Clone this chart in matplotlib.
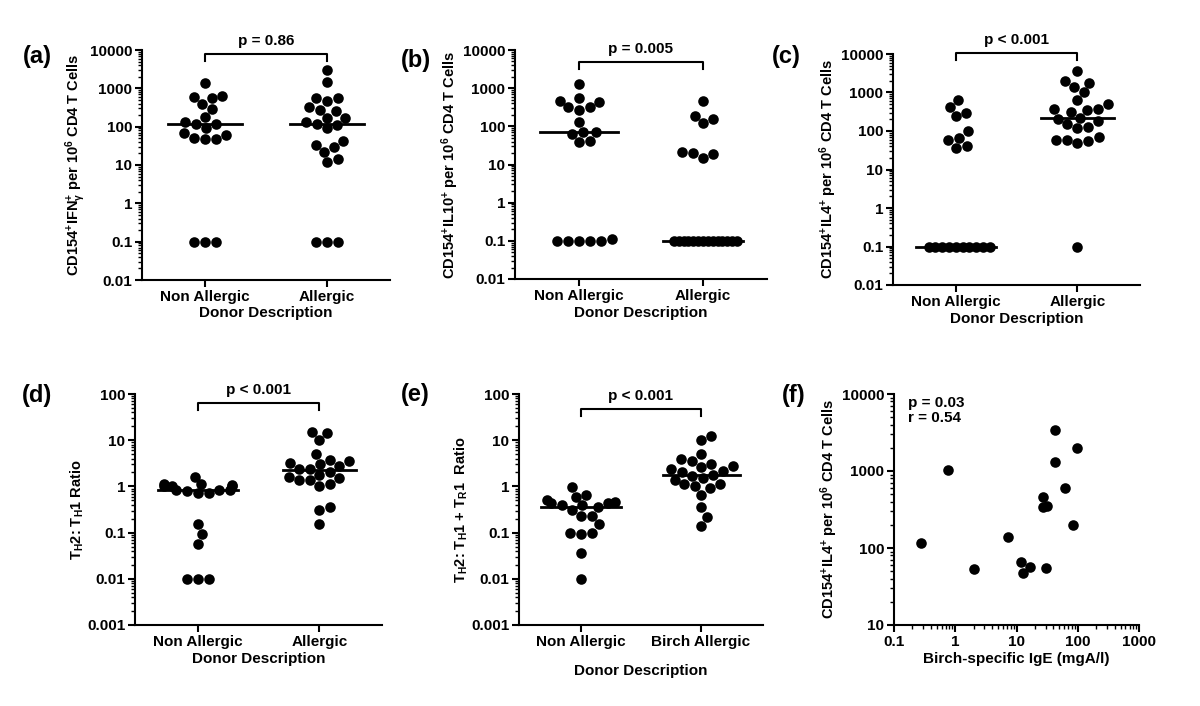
import numpy as np
import matplotlib
matplotlib.use("Agg")
import matplotlib.pyplot as plt

plt.rcParams["font.family"] = "Liberation Sans"
plt.rcParams["font.weight"] = "bold"
plt.rcParams["axes.labelweight"] = "bold"
plt.rcParams["mathtext.fontset"] = "custom"
plt.rcParams["mathtext.rm"] = "Liberation Sans:bold"
plt.rcParams["mathtext.it"] = "Liberation Sans:bold"
plt.rcParams["mathtext.bf"] = "Liberation Sans:bold"
plt.rcParams["mathtext.sf"] = "Liberation Sans:bold"

# ---- data ----
groups = ["Non Allergic", "Allergic"]
groups_e = ["Non Allergic", "Birch Allergic"]

a_non = [1400, 650, 600, 550, 400, 290, 175, 130, 115, 115, 90, 67, 62, 52, 48, 48, 0.1, 0.1, 0.1]
a_all = [3000, 1500, 570, 570, 480, 320, 270, 250, 170, 170, 130, 115, 110, 90, 42, 33, 30, 22,
         14, 12, 0.1, 0.1, 0.1]

b_non = [1300, 540, 470, 440, 325, 315, 270, 127, 72, 71, 63, 42, 38,
         0.1, 0.1, 0.1, 0.1, 0.1, 0.11]
b_all = [460, 185, 160, 120, 21, 19.5, 19, 15,
         0.1, 0.1, 0.1, 0.1, 0.1, 0.1, 0.1, 0.1, 0.1, 0.1, 0.1, 0.1, 0.1, 0.1]

c_non = [630, 425, 285, 250, 100, 67, 57, 40, 37,
         0.1, 0.1, 0.1, 0.1, 0.1, 0.1, 0.1, 0.1, 0.1, 0.1]
c_all = [3650, 2000, 1800, 1350, 1050, 630, 500, 380, 375, 360, 315, 220, 210, 180, 150, 130,
         120, 68, 58, 58, 56, 50, 0.1]

d_non = [1.6, 1.14, 1.14, 1.09, 1.03, 1.0, 1.0, 0.85, 0.82, 0.82, 0.78, 0.72, 0.72,
         0.15, 0.093, 0.058, 0.01, 0.01, 0.01]
d_all = [15, 14.5, 10, 5.1, 3.8, 3.5, 3.2, 3.1, 2.8, 2.4, 2.4, 2.1, 1.8, 1.6, 1.5, 1.35, 1.35,
         1.1, 1.0, 0.36, 0.31, 0.15]

e_non = [0.98, 0.66, 0.6, 0.5, 0.47, 0.43, 0.43, 0.39, 0.39, 0.36, 0.31, 0.23, 0.23, 0.15,
         0.1, 0.1, 0.095, 0.036, 0.01]
e_all = [12.5, 10, 5.1, 4.0, 3.5, 3.1, 2.7, 2.6, 2.4, 2.2, 2.1, 1.8, 1.7, 1.5, 1.4, 1.1, 1.1,
         1.03, 0.92, 0.66, 0.35, 0.22, 0.14]

f_ige = [0.28, 0.75, 2.0, 7.4, 11.7, 12.8, 16.8, 26.7, 26.7, 31, 30, 43, 42, 63, 98, 85]
f_il4 = [115, 1030, 54, 140, 65, 47, 56, 465, 345, 350, 55, 3450, 1320, 600, 1980, 200]

ticks_top = [0.01, 0.1, 1, 10, 100, 1000, 10000]
labels_top = ["0.01", "0.1", "1", "10", "100", "1000", "10000"]
ticks_ratio = [0.001, 0.01, 0.1, 1, 10, 100]
labels_ratio = ["0.001", "0.01", "0.1", "1", "10", "100"]
ticks_fy = [10, 100, 1000, 10000]
labels_fy = ["10", "100", "1000", "10000"]
ticks_fx = [0.1, 1, 10, 100, 1000]
labels_fx = ["0.1", "1", "10", "100", "1000"]

FS = 11
LFS = 10.5
W, H = 1200, 706


def px_axes(x0, y0, x1, y1):
    # pixel box (top-left origin) -> figure fraction rect
    return [x0 / W, (H - y1) / H, (x1 - x0) / W, (y1 - y0) / H]


def style_axes(ax):
    for s in ["top", "right"]:
        ax.spines[s].set_visible(False)
    for s in ["left", "bottom"]:
        ax.spines[s].set_linewidth(1.5)
    ax.tick_params(which="major", length=5, width=1.5, labelsize=FS, pad=2)
    ax.tick_params(which="minor", length=3, width=1.0)


def swarm(ax, xc, values, sx=11.0, sy=10.5, max_half_px=34.0):
    # beeswarm in pixel space with an elliptical footprint per dot
    vals = np.asarray(values, dtype=float)
    ys = ax.transData.transform(np.column_stack([np.full(len(vals), xc), vals]))[:, 1] / sy
    order = np.argsort(ys, kind="stable")
    placed = []
    off = np.zeros(len(vals))
    for i in order:
        y = ys[i]
        cands = [0.0]
        for qx, qy in placed:
            dy = abs(qy - y)
            if dy < 1:
                dx = np.sqrt(1 - dy ** 2)
                cands += [qx - dx, qx + dx]
        cands.sort(key=lambda c: (round(abs(c), 6), -c))
        for c in cands:
            if all((c - qx) ** 2 + (y - qy) ** 2 >= 1 - 1e-9 for qx, qy in placed):
                break
        placed.append((c, y))
        off[i] = c * sx
    # squeeze long rows of identical values
    for v in np.unique(vals):
        idx = np.where(vals == v)[0]
        m = np.abs(off[idx]).max()
        if m > max_half_px:
            off[idx] *= max_half_px / m
    unit = ax.transData.transform((1, 1))[0] - ax.transData.transform((0, 1))[0]
    return xc + off / unit


def dot_panel(rect, data, cats, yticks, ylabels, ylabel, bracket_y, ptext, xlabelpad=2):
    ax = fig.add_axes(rect)
    ax.set_yscale("log")
    ax.set_ylim(yticks[0], yticks[-1])
    ax.set_xlim(-0.516, 1.516)
    ax.set_yticks(yticks)
    ax.set_yticklabels(ylabels)
    ax.set_xticks([0, 1])
    ax.set_xticklabels(cats)
    style_axes(ax)
    ax.xaxis.set_minor_locator(matplotlib.ticker.NullLocator())
    for k, vals in enumerate(data):
        xs = swarm(ax, k, vals)
        ax.scatter(xs, vals, s=58, color="black", linewidths=0, zorder=3, clip_on=False)
        hw = max(0.3, np.abs(xs - k).max() + 0.05)
        med = np.median(vals)
        ax.plot([k - hw, k + hw], [med, med], color="black", lw=2, zorder=4)
    # significance bracket
    drop = 10 ** (-7.0 / (ax.transData.transform((0, 10))[1] - ax.transData.transform((0, 1))[1]))
    ax.plot([0, 0, 1, 1], [bracket_y * drop, bracket_y, bracket_y, bracket_y * drop],
            color="black", lw=1.5, clip_on=False)
    ax.annotate(ptext, xy=(0.5, bracket_y), xytext=(0, 4), textcoords="offset points",
                ha="center", va="bottom", fontsize=FS, fontweight="bold", annotation_clip=False)
    ax.set_ylabel(ylabel, fontsize=LFS, labelpad=1)
    ax.set_xlabel("Donor Description", fontsize=FS, labelpad=xlabelpad)
    return ax


fig = plt.figure(figsize=(12, 7.06), dpi=100)

lab_cd = r" per 10$^{6}$ CD4 T Cells"
dot_panel(px_axes(142, 50, 390, 280), [a_non, a_all], groups, ticks_top, labels_top,
          r"CD154$^{+}$IFN$_{\gamma}^{+}$" + lab_cd, 7870, "p = 0.86")
dot_panel(px_axes(515, 50, 767, 279), [b_non, b_all], groups, ticks_top, labels_top,
          r"CD154$^{+}$IL10$^{+}$" + lab_cd, 4860, "p = 0.005")
dot_panel(px_axes(893, 54, 1140, 285), [c_non, c_all], groups, ticks_top, labels_top,
          r"CD154$^{+}$IL4$^{+}$" + lab_cd, 10600, "p < 0.001")
dot_panel(px_axes(135, 394, 382, 625), [d_non, d_all], groups, ticks_ratio, labels_ratio,
          r"T$_{\mathrm{H}}$2: T$_{\mathrm{H}}$1 Ratio", 63.8, "p < 0.001")
dot_panel(px_axes(519, 394, 763, 625), [e_non, e_all], groups_e, ticks_ratio, labels_ratio,
          r"T$_{\mathrm{H}}$2: T$_{\mathrm{H}}$1 + T$_{\mathrm{R}}$1  Ratio", 47.3, "p < 0.001",
          xlabelpad=11)

# panel (f): correlation scatter
axf = fig.add_axes(px_axes(894, 394, 1139, 625))
axf.set_xscale("log")
axf.set_yscale("log")
axf.set_xlim(ticks_fx[0], ticks_fx[-1])
axf.set_ylim(ticks_fy[0], ticks_fy[-1])
axf.set_xticks(ticks_fx)
axf.set_xticklabels(labels_fx)
axf.set_yticks(ticks_fy)
axf.set_yticklabels(labels_fy)
style_axes(axf)
axf.scatter(f_ige, f_il4, s=58, color="black", linewidths=0, zorder=3)
axf.text(0.057, 0.99, "p = 0.03\nr = 0.54", transform=axf.transAxes, ha="left", va="top",
         fontsize=FS, fontweight="bold", linespacing=1.1)
axf.set_ylabel(r"CD154$^{+}$IL4$^{+}$" + lab_cd, fontsize=LFS, labelpad=1)
axf.set_xlabel("Birch-specific IgE (mgA/l)", fontsize=FS, labelpad=2)

# panel letters
for lbl, x, y in [("(a)", 37, 57), ("(b)", 416, 60), ("(c)", 786, 57),
                  ("(d)", 37, 395), ("(e)", 415, 394), ("(f)", 794, 395)]:
    fig.text(x / W, 1 - y / H, lbl, ha="center", va="center", fontsize=17, fontweight="bold")

fig.savefig("out.png", dpi=100)
